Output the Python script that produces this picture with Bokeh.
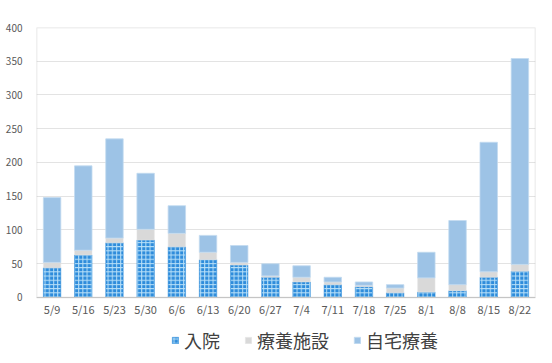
from bokeh.plotting import figure
from bokeh.models import Legend, LegendItem, FixedTicker, Range1d, BoxAnnotation
from bokeh.embed import file_html
from bokeh.resources import INLINE

dates = ["5/9", "5/16", "5/23", "5/30", "6/6", "6/13", "6/20", "6/27",
         "7/4", "7/11", "7/18", "7/25", "8/1", "8/8", "8/15", "8/22"]
hospital = [44, 63, 81, 85, 75, 56, 48, 30, 23, 19, 16, 7, 8, 10, 30, 39]
facility = [8, 7, 7, 16, 20, 11, 4, 2, 7, 4, 2, 7, 21, 9, 8, 10]
home = [96, 125, 147, 83, 41, 25, 25, 18, 17, 7, 5, 5, 38, 95, 192, 305]
names = ["入院", "療養施設", "自宅療養"]
y_ticks = [0, 50, 100, 150, 200, 250, 300, 350, 400]

FONT = "Noto Sans CJK JP"

# the area below 0 holds the date labels and the legend
p = figure(x_range=dates, y_range=Range1d(-97.8, 400),
           frame_width=499, frame_height=336,
           output_backend="svg", toolbar_location=None,
           min_border_left=36, min_border_right=17, min_border_top=27,
           min_border_bottom=0)

r1 = p.vbar(x=dates, bottom=[0]*len(dates), top=hospital, width=0.56,
            fill_color="#2E8CDB", line_color="#2E8CDB", line_width=0.5,
            hatch_pattern="+", hatch_color="#B8E0F8", hatch_scale=4.2,
            hatch_weight=1.0)
t2 = [a + b for a, b in zip(hospital, facility)]
r2 = p.vbar(x=dates, bottom=hospital, top=t2, width=0.56,
            fill_color="#D9D9D9", line_color="#E6E6E6", line_width=0.5)
t3 = [a + b for a, b in zip(t2, home)]
r3 = p.vbar(x=dates, bottom=t2, top=t3, width=0.56,
            fill_color="#9DC3E6", line_color="#C3DAF0", line_width=0.8)

p.yaxis.ticker = FixedTicker(ticks=y_ticks)
p.ygrid.grid_line_color = "#E3E3E3"
p.ygrid.grid_line_width = 1
p.xgrid.grid_line_color = None

p.outline_line_color = None
p.add_layout(BoxAnnotation(bottom=0, top=400, fill_alpha=0,
                           line_color="#999999", line_width=1.5))

p.yaxis.axis_line_color = None
p.yaxis.major_tick_line_color = None
p.yaxis.minor_tick_line_color = None
p.yaxis.major_label_text_color = "#595959"
p.yaxis.major_label_text_font = FONT
p.yaxis.major_label_text_font_size = "10px"
p.yaxis.major_label_standoff = 8

p.xaxis.fixed_location = 0
p.xaxis.axis_line_color = "#D9D9D9"
p.xaxis.axis_line_width = 1
p.xaxis.major_tick_line_color = None
p.xaxis.minor_tick_line_color = None
p.xaxis.major_label_text_color = "#595959"
p.xaxis.major_label_text_font = FONT
p.xaxis.major_label_text_font_size = "11px"
p.xaxis.major_label_standoff = -2

legend = Legend(items=[LegendItem(label=names[0], renderers=[r1]),
                       LegendItem(label=names[1], renderers=[r2]),
                       LegendItem(label=names[2], renderers=[r3])],
                orientation="horizontal", location=(135, 10),
                label_text_font=FONT, label_text_font_size="18px",
                label_text_color="#404040", glyph_width=8, glyph_height=8,
                spacing=24, label_standoff=5, border_line_color=None,
                background_fill_alpha=0, margin=0, padding=3)
p.add_layout(legend)

open("out.html", "w").write(file_html(p, INLINE))
